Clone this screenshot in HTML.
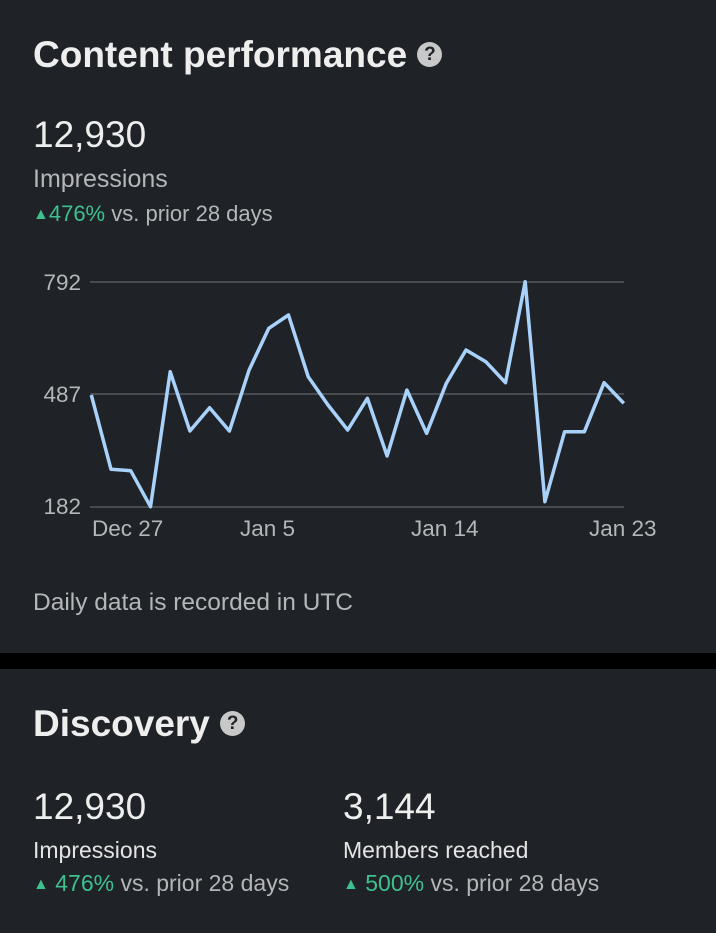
<!DOCTYPE html>
<html><head><meta charset="utf-8"><style>
body{margin:0;width:716px;height:933px;background:#1f2226;position:relative;overflow:hidden;font-family:"Liberation Sans",sans-serif;}
.a{position:absolute;white-space:nowrap;}
.t{color:#eeeeee;font-weight:bold;font-size:37px;}
.n{color:#eeeeee;font-size:37px;}
.l{color:#b4b6b8;font-size:25px;}
.g{color:#3ec08f;}
.s{color:#b4b6b8;font-size:22px;}
.q{display:inline-block;width:25px;height:25px;border-radius:50%;background:#c8c8c8;color:#1f2226;font-size:19px;font-weight:bold;text-align:center;line-height:25px;vertical-align:middle;}
</style></head><body>
<div class="a t" style="left:33px;top:34px;">Content performance <span class="q" style="position:relative;top:-3px">?</span></div>
<div class="a n" style="left:33px;top:114px;">12,930</div>
<div class="a l" style="left:33px;top:165px;">Impressions</div>
<div class="a s" style="left:33px;top:201px;"><span class="g"><span style="font-size:16px;position:relative;top:-2px">▲</span>476%</span> vs. prior 28 days</div>
<svg class="a" style="left:0;top:0" width="716" height="560">
<g stroke="#5f6266" stroke-width="1.2"><line x1="90" y1="282" x2="624" y2="282"/><line x1="90" y1="394" x2="624" y2="394"/><line x1="90" y1="507" x2="624" y2="507"/></g>
<g fill="#b4b6b8" font-family="Liberation Sans" font-size="22.5"><text x="81" y="290" text-anchor="end">792</text><text x="81" y="402" text-anchor="end">487</text><text x="81" y="514" text-anchor="end">182</text>
<text x="92" y="536">Dec 27</text><text x="240" y="536">Jan 5</text><text x="411" y="536">Jan 14</text><text x="589" y="536">Jan 23</text></g>
<polyline fill="none" stroke="#a9d2fb" stroke-width="3.5" stroke-linejoin="round" points="91.3,395 111,469.3 130.7,470.7 150.5,506.7 170.2,371.7 189.9,431 209.6,407.7 229.4,431 249.1,370 268.8,328.3 288.5,315 308.2,376.7 328,405 347.7,430 367.4,398.3 387.1,456 406.9,390 426.6,433.3 446.3,383.3 466,350 485.8,361.7 505.5,382.7 525.2,281.7 544.9,501.7 564.6,431.7 584.4,431.7 604.1,382.7 623.8,403.3"/>
</svg>
<div class="a s" style="left:33px;top:589px;font-size:24.5px;">Daily data is recorded in UTC</div>
<div class="a" style="left:0;top:653px;width:716px;height:16px;background:#000;"></div>
<div class="a t" style="left:33px;top:703px;">Discovery <span class="q" style="position:relative;top:-3px">?</span></div>
<div class="a n" style="left:33px;top:786px;">12,930</div>
<div class="a" style="left:33px;top:837px;color:#e4e4e4;font-size:23px;">Impressions</div>
<div class="a s" style="left:33px;top:870px;font-size:23px;"><span class="g"><span style="font-size:16px;position:relative;top:-2px">▲</span> 476%</span> vs. prior 28 days</div>
<div class="a n" style="left:343px;top:786px;">3,144</div>
<div class="a" style="left:343px;top:837px;color:#e4e4e4;font-size:23px;">Members reached</div>
<div class="a s" style="left:343px;top:870px;font-size:23px;"><span class="g"><span style="font-size:16px;position:relative;top:-2px">▲</span> 500%</span> vs. prior 28 days</div>
</body></html>
